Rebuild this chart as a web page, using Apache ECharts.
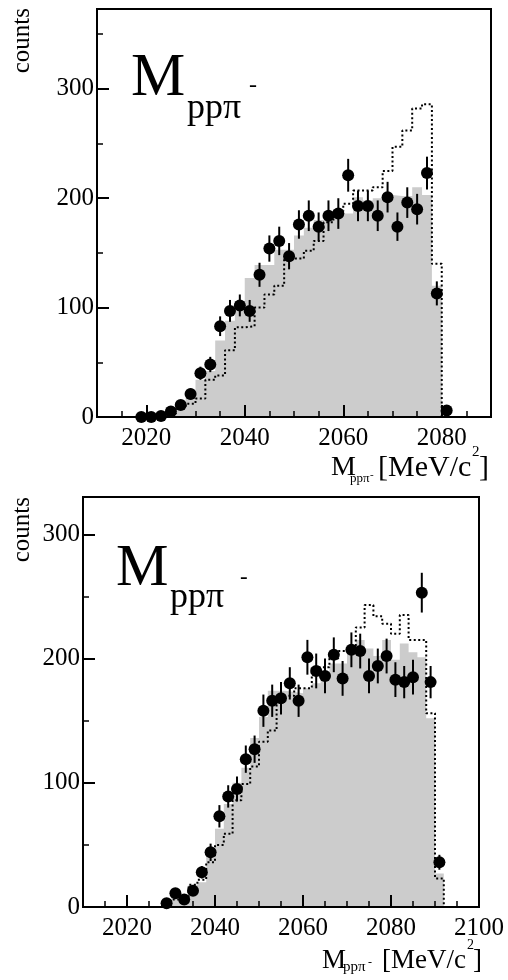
<!DOCTYPE html>
<html>
<head>
<meta charset="utf-8">
<script src="https://cdn.jsdelivr.net/npm/echarts@6/dist/echarts.min.js"></script>
<style>
html, body { margin: 0; padding: 0; background: #fff; }
#chart { width: 508px; height: 980px; }
</style>
</head>
<body>
<div id="chart"></div>
<script>
// upper panel: bin centres (2 MeV bins), measured counts, errors, grey fill, dotted outline
var topMass = [2019, 2021, 2023, 2025, 2027, 2029, 2031, 2033, 2035, 2037, 2039, 2041, 2043, 2045, 2047, 2049,
               2051, 2053, 2055, 2057, 2059, 2061, 2063, 2065, 2067, 2069, 2071, 2073, 2075, 2077, 2079, 2081];
var topData = [0, 0, 1, 5, 11, 21, 40, 48, 83, 97, 102, 97, 130, 154, 161, 147,
               176, 184, 174, 184, 186, 221, 193, 193, 184, 201, 174, 196, 190, 223, 113, 6];
var topErr = [0, 0, 1, 2, 3, 5, 6, 7, 9, 10, 10, 10, 11, 12, 13, 12,
              13, 14, 13, 14, 14, 15, 14, 14, 14, 14, 13, 14, 14, 15, 11, 2];
var topGrey = [0, 0, 1, 4, 9, 18, 34, 42, 70, 88, 106, 127, 139, 139, 153, 153,
               166, 173, 180, 181, 184, 186, 201, 198, 200, 203, 202, 202, 210, 203, 120, 0];
var topDotted = [0, 0, 1, 3, 8, 12, 17, 34, 38, 61, 82, 83, 100, 112, 120, 145,
                 145, 152, 161, 178, 188, 195, 207, 207, 210, 225, 247, 262, 282, 286, 140, 0];

// lower panel
var botMass = [2029, 2031, 2033, 2035, 2037, 2039, 2041, 2043, 2045, 2047, 2049, 2051, 2053, 2055, 2057, 2059,
               2061, 2063, 2065, 2067, 2069, 2071, 2073, 2075, 2077, 2079, 2081, 2083, 2085, 2087, 2089, 2091];
var botData = [3, 11, 6, 13, 28, 44, 73, 89, 95, 119, 127, 158, 166, 168, 180, 166,
               201, 190, 186, 203, 184, 207, 206, 186, 194, 202, 183, 181, 185, 253, 181, 36];
var botErr = [2, 3, 2, 4, 5, 7, 9, 9, 10, 11, 11, 13, 13, 13, 13, 13,
              14, 14, 14, 14, 14, 14, 14, 14, 14, 14, 14, 13, 14, 16, 13, 6];
var botGrey = [3, 7, 10, 18, 20, 46, 63, 83, 100, 112, 136, 153, 174, 174, 173, 172,
               176, 180, 186, 196, 196, 207, 215, 208, 202, 215, 199, 212, 205, 201, 152, 27];
var botDotted = [2, 6, 8, 18, 22, 36, 50, 59, 86, 99, 113, 133, 142, 170, 170, 176,
                 176, 193, 193, 200, 206, 206, 225, 243, 234, 228, 220, 235, 215, 215, 156, 23];

var topXLabels = [2020, 2040, 2060, 2080];
var botXLabels = [2020, 2040, 2060, 2080, 2100];
var yLabels = [0, 100, 200, 300];

var serif = '"Liberation Serif", "DejaVu Serif", serif';
var halfBin = 1;

function histLine(mass, vals) {
  var pts = [[mass[0] - halfBin, 0]];
  for (var i = 0; i < mass.length; i++) {
    pts.push([mass[i] - halfBin, vals[i]]);
    pts.push([mass[i] + halfBin, vals[i]]);
  }
  pts.push([mass[mass.length - 1] + halfBin, 0]);
  return pts;
}

function points(mass, vals, errs) {
  return mass.map(function (m, i) { return [m, vals[i], errs[i]]; });
}

function plain(v) { return String(v); }

// two axes per side: short ticks every step + long ticks at the labelled values
function xAxes(grid, max, labels) {
  return [
    {
      gridIndex: grid, type: 'value', position: 'bottom', min: 2010, max: max, interval: 5, z: 10,
      axisLine: { show: true, lineStyle: { color: '#000', width: 2 } },
      axisTick: { show: true, inside: true, length: 6, lineStyle: { color: '#000', width: 1.5 } },
      axisLabel: { customValues: labels, formatter: plain, color: '#000', fontFamily: serif, fontSize: 25, margin: 9 },
      splitLine: { show: false }
    },
    {
      gridIndex: grid, type: 'value', position: 'bottom', min: 2010, max: max, interval: 5, z: 10,
      axisLine: { show: true, lineStyle: { color: '#000', width: 2 } },
      axisTick: { show: true, inside: true, length: 12, customValues: labels, lineStyle: { color: '#000', width: 2 } },
      axisLabel: { show: false },
      splitLine: { show: false }
    }
  ];
}

function yAxes(grid, max) {
  return [
    {
      gridIndex: grid, type: 'value', position: 'left', min: 0, max: max, interval: 50, z: 10,
      axisLine: { show: true, lineStyle: { color: '#000', width: 2 } },
      axisTick: { show: true, inside: true, length: 6, lineStyle: { color: '#000', width: 1.5 } },
      axisLabel: { customValues: yLabels, formatter: plain, color: '#000', fontFamily: serif, fontSize: 25, margin: 3 },
      splitLine: { show: false }
    },
    {
      gridIndex: grid, type: 'value', position: 'left', min: 0, max: max, interval: 50, z: 10,
      axisLine: { show: true, lineStyle: { color: '#000', width: 2 } },
      axisTick: { show: true, inside: true, length: 12, customValues: yLabels, lineStyle: { color: '#000', width: 2 } },
      axisLabel: { show: false },
      splitLine: { show: false }
    }
  ];
}

function errorBars(p, list) {
  return {
    type: 'custom', xAxisIndex: 2 * p, yAxisIndex: 2 * p, z: 4,
    data: list,
    renderItem: function (params, api) {
      var x = api.value(0), y = api.value(1), e = api.value(2);
      var a = api.coord([x, y + e]);
      var b = api.coord([x, Math.max(y - e, 0)]);
      return { type: 'line', shape: { x1: a[0], y1: a[1], x2: b[0], y2: b[1] },
               style: { stroke: '#000', lineWidth: 2 } };
    }
  };
}

function panelSeries(p, mass, data, errs, grey, dotted) {
  var list = points(mass, data, errs);
  return [
    {
      type: 'line', xAxisIndex: 2 * p, yAxisIndex: 2 * p, data: histLine(mass, grey),
      symbol: 'none', lineStyle: { width: 0 }, areaStyle: { color: '#cccccc', opacity: 1 },
      silent: true, z: 1
    },
    {
      type: 'line', xAxisIndex: 2 * p, yAxisIndex: 2 * p, data: histLine(mass, dotted),
      symbol: 'none', lineStyle: { color: '#000', width: 2, type: [2, 2.5] },
      silent: true, z: 2
    },
    errorBars(p, list),
    {
      type: 'scatter', xAxisIndex: 2 * p, yAxisIndex: 2 * p, data: list,
      symbol: 'circle', symbolSize: 12, itemStyle: { color: '#000', opacity: 1 }, z: 5
    }
  ];
}

function txt(x, y, text, size, align) {
  return {
    type: 'text', x: x, y: y, z: 100,
    style: { text: text, font: size + 'px ' + serif, fill: '#000',
             align: align || 'left', verticalAlign: 'middle',
             textAlign: align || 'left', textVerticalAlign: 'middle' }
  };
}

function vtxt(x, y, text, size) {
  var el = txt(x, y, text, size, 'right');
  el.rotation = Math.PI / 2;
  return el;
}

var chart = echarts.init(document.getElementById('chart'));
chart.setOption({
  animation: false,
  backgroundColor: '#fff',
  grid: [
    { left: 97, top: 9, width: 394, height: 408, show: true, borderColor: '#000', borderWidth: 2 },
    { left: 83, top: 497, width: 396, height: 410, show: true, borderColor: '#000', borderWidth: 2 }
  ],
  xAxis: xAxes(0, 2090, topXLabels).concat(xAxes(1, 2100, botXLabels)),
  yAxis: yAxes(0, 373).concat(yAxes(1, 330)),
  series: panelSeries(0, topMass, topData, topErr, topGrey, topDotted)
    .concat(panelSeries(1, botMass, botData, botErr, botGrey, botDotted)),
  graphic: [
    // y titles
    vtxt(22, 8, 'counts', 25),
    vtxt(22, 497, 'counts', 25),
    // panel labels
    txt(131, 79, 'M', 61),
    txt(187, 109, 'pp\u03c0', 36),
    txt(249, 86, '-', 24),
    txt(116, 569, 'M', 59),
    txt(170, 598, 'pp\u03c0', 36),
    txt(240, 578, '-', 23),
    // x titles
    txt(331, 468, 'M', 28),
    txt(350, 479, 'pp\u03c0', 13),
    txt(370, 475, '-', 11),
    txt(378, 468, '[MeV/c', 30),
    txt(472, 452, '2', 15),
    txt(479, 468, ']', 30),
    txt(322, 961, 'M', 27),
    txt(343, 967, 'pp\u03c0', 15),
    txt(368, 963, '-', 12),
    txt(382, 961, '[MeV/c', 27),
    txt(467, 945, '2', 14),
    txt(473, 961, ']', 27)
  ]
});
</script>
</body>
</html>
